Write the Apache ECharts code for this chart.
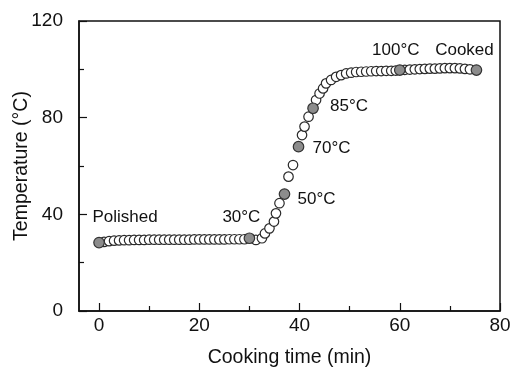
<!DOCTYPE html>
<html>
<head>
<meta charset="utf-8">
<script src="https://cdn.jsdelivr.net/npm/echarts@6/dist/echarts.min.js"></script>
<style>
  html, body { margin: 0; padding: 0; background: #fff; }
  #chart { width: 511px; height: 369px; }
</style>
</head>
<body>
<div id="chart"></div>
<script>
// open circles (min, °C)
const openTime = [
  1, 2, 3, 4, 5, 6, 7, 8, 9, 10, 11, 12, 13, 14, 15, 16, 17, 18, 19, 20,
  21, 22, 23, 24, 25, 26, 27, 28, 29,
  31.3, 32.5, 33.1, 34.0, 34.9, 35.3, 36.0, 37.8, 38.7, 40.5, 41.0, 41.8,
  43.3, 44.0, 44.7, 45.3, 46.3, 47.3, 48.3, 49.3, 50.3,
  51.3, 52.3, 53.3, 54.3, 55.3, 56.3, 57.3, 58.3, 59.2,
  61, 62, 63, 64, 65, 66, 67, 68, 69, 70, 71, 72, 73, 74
];
const openTemp = [
  28.6, 28.9, 29.1, 29.2, 29.3, 29.3, 29.4, 29.4, 29.4, 29.5, 29.5, 29.5, 29.5, 29.5, 29.5, 29.5, 29.5, 29.5, 29.6, 29.6,
  29.6, 29.6, 29.6, 29.6, 29.6, 29.7, 29.7, 29.7, 29.7,
  29.4, 30.1, 32.1, 34.2, 37.0, 40.4, 44.6, 55.6, 60.4, 72.8, 76.3, 80.4,
  87.3, 90.0, 92.1, 94.2, 95.6, 96.9, 97.6, 98.3, 98.6,
  98.9, 99.0, 99.1, 99.2, 99.3, 99.3, 99.4, 99.4, 99.5,
  99.8, 99.9, 100.0, 100.1, 100.2, 100.3, 100.3, 100.4, 100.5, 100.5, 100.5, 100.4, 100.2, 100.0
];

// grey marked points
const markTime = [0, 30, 37, 39.8, 42.7, 60, 75.3];
const markTemp = [28.3, 30.1, 48.4, 68, 83.9, 99.7, 99.7];
const markLabels = ["Polished", "30°C", "50°C", "70°C", "85°C", "100°C", "Cooked"];

const xMajorTicks = [0, 20, 40, 60, 80];
const xMinorTicks = [10, 30, 50, 70];

// label offsets from each grey point (px)
const labelOffsets = [[26, -25], [-8, -21], [32, 5], [33, 2], [36, -2], [-4, -20], [-12, -20]];

const chart = echarts.init(document.getElementById("chart"));

const txt = "#111";
const font = "Liberation Sans, Arial, sans-serif";

const option = {
  animation: false,
  grid: {
    left: 79, right: 11, top: 21, bottom: 58,
    outerBoundsMode: "none",
    containLabel: false,
    show: true, borderColor: "#111", borderWidth: 1.5
  },
  xAxis: [
    {
      type: "value",
      min: -4, max: 80,
      name: "Cooking time (min)",
      nameLocation: "middle",
      nameGap: 37,
      nameMoveOverlap: false,
      nameTextStyle: { color: txt, fontSize: 19.5, fontFamily: font },
      axisLine: { show: true, onZero: false, lineStyle: { color: "#111", width: 1.5 } },
      axisTick: { show: true, inside: true, length: 8, customValues: xMajorTicks, lineStyle: { color: "#111", width: 1.2 } },
      axisLabel: { customValues: xMajorTicks, color: txt, fontSize: 19, fontFamily: font, margin: 5 },
      splitLine: { show: false }
    },
    {
      type: "value",
      min: -4, max: 80,
      position: "bottom",
      axisLine: { show: false, onZero: false },
      axisTick: { show: true, inside: true, length: 5, customValues: xMinorTicks, lineStyle: { color: "#111", width: 1.2 } },
      axisLabel: { show: false },
      splitLine: { show: false }
    }
  ],
  yAxis: {
    type: "value",
    min: 0, max: 120, interval: 40,
    name: "Temperature (°C)",
    nameLocation: "middle",
    nameGap: 47,
    nameMoveOverlap: false,
    nameTextStyle: { color: txt, fontSize: 19.5, fontFamily: font },
    axisLine: { show: true, onZero: false, lineStyle: { color: "#111", width: 1.5 } },
    axisTick: { show: true, inside: true, length: 8, lineStyle: { color: "#111", width: 1.2 } },
    minorTick: { show: true, splitNumber: 2, length: 5, lineStyle: { color: "#111", width: 1.2 } },
    axisLabel: { color: txt, fontSize: 19, fontFamily: font, margin: 16 },
    splitLine: { show: false }
  },
  series: [
    {
      type: "scatter",
      data: openTime.map((t, i) => [t, openTemp[i]]),
      symbol: "circle",
      symbolSize: 9.5,
      itemStyle: { color: "#fff", borderColor: "#2a2a2a", borderWidth: 1.2, opacity: 1 }
    },
    {
      type: "scatter",
      data: markTime.map((t, i) => ({
        value: [t, markTemp[i]],
        label: {
          show: true,
          formatter: markLabels[i],
          position: "inside",
          offset: labelOffsets[i],
          color: txt
        }
      })),
      symbol: "circle",
      symbolSize: 10.5,
      itemStyle: { color: "#8c8c8c", borderColor: "#333", borderWidth: 1.2, opacity: 1 },
      label: { color: txt, fontSize: 17, fontFamily: font, align: "center", verticalAlign: "middle", textBorderWidth: 0 },
      z: 3
    }
  ]
};

chart.setOption(option);
</script>
</body>
</html>
